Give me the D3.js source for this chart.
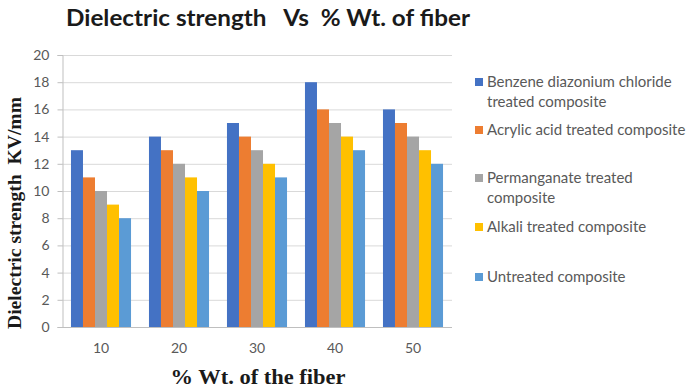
<!DOCTYPE html>
<html>
<head>
<meta charset="utf-8">
<script src="https://cdn.jsdelivr.net/npm/d3@7/dist/d3.min.js"></script>
<style>
  html, body { margin: 0; padding: 0; background: #fff; }
  svg { display: block; }
</style>
</head>
<body>
<svg id="chart" width="686" height="389"></svg>
<script>
// Fiber loading (% wt.) along the x axis
const categories = ["10", "20", "30", "40", "50"];

// Composite treatments (one bar per group each)
const seriesNames = [
  ["Benzene diazonium chloride", "treated composite"],
  ["Acrylic acid treated composite"],
  ["Permanganate treated", "composite"],
  ["Alkali treated composite"],
  ["Untreated composite"]
];

// Dielectric strength (KV/mm) per treatment, in category order
const benzeneDiazonium = [13, 14, 15, 18, 16];
const acrylicAcid      = [11, 13, 14, 16, 15];
const permanganate     = [10, 12, 13, 15, 14];
const alkali           = [9, 11, 12, 14, 13];
const untreated        = [8, 10, 11, 13, 12];

const yTicks = [0, 2, 4, 6, 8, 10, 12, 14, 16, 18, 20];

const seriesValues = [benzeneDiazonium, acrylicAcid, permanganate, alkali, untreated];
const colors = ["#4472C4", "#ED7D31", "#A5A5A5", "#FFC000", "#5B9BD5"];

const svg = d3.select("#chart");
const plot = { left: 62, right: 452, top: 55, bottom: 327 };

const x0 = d3.scaleBand()
  .domain(categories)
  .range([plot.left, plot.right])
  .paddingInner(0.23)
  .paddingOuter(0.115);

const x1 = d3.scaleBand()
  .domain(d3.range(seriesValues.length))
  .range([0, x0.bandwidth()]);

const y = d3.scaleLinear()
  .domain([0, 20])
  .range([plot.bottom, plot.top]);

// Horizontal gridlines
svg.append("g")
  .selectAll("line")
  .data(yTicks.filter(t => t > 0))
  .join("line")
  .attr("x1", plot.left)
  .attr("x2", plot.right)
  .attr("y1", d => y(d) + 0.5)
  .attr("y2", d => y(d) + 0.5)
  .attr("stroke", "#d9d9d9")
  .attr("stroke-width", 1);

// Bars
const groups = svg.append("g")
  .selectAll("g")
  .data(categories)
  .join("g")
  .attr("transform", d => `translate(${x0(d)},0)`);

groups.selectAll("rect")
  .data((c, ci) => seriesValues.map((vals, si) => ({ si, v: vals[ci] })))
  .join("rect")
  .attr("x", d => x1(d.si))
  .attr("width", x1.bandwidth())
  .attr("y", d => y(d.v))
  .attr("height", d => y(0) - y(d.v))
  .attr("fill", d => colors[d.si]);

// Y axis
const yAxis = svg.append("g")
  .attr("transform", `translate(${plot.left + 0.5},0)`)
  .call(d3.axisLeft(y).tickValues(yTicks).tickSize(5).tickPadding(8).tickFormat(d3.format("d")));
yAxis.select(".domain").attr("stroke", "#bfbfbf");
yAxis.selectAll(".tick line").attr("stroke", "#bfbfbf");
yAxis.selectAll("text")
  .attr("fill", "#595959")
  .style("font-family", "Lato, 'Open Sans', sans-serif")
  .style("font-size", "14px");

// X axis
const xAxis = svg.append("g")
  .attr("transform", `translate(0,${plot.bottom + 0.5})`)
  .call(d3.axisBottom(x0).tickSize(0).tickPadding(16));
xAxis.select(".domain").attr("stroke", "#bfbfbf").attr("d", `M${plot.left},0H${plot.right}`);
xAxis.selectAll("text")
  .attr("fill", "#595959")
  .style("font-family", "Lato, 'Open Sans', sans-serif")
  .style("font-size", "14px");

// Title
svg.append("text")
  .attr("x", 66)
  .attr("y", 26)
  .attr("fill", "#1a1a1a")
  .attr("textLength", 404)
  .attr("lengthAdjust", "spacingAndGlyphs")
  .style("font-family", "Lato, 'Open Sans', sans-serif")
  .style("font-weight", "bold")
  .style("font-size", "22px")
  .style("white-space", "pre")
  .text("Dielectric strength   Vs  % Wt. of fiber");

// Axis titles
svg.append("text")
  .attr("transform", `translate(21,${(plot.top + plot.bottom) / 2 + 22}) rotate(-90)`)
  .attr("text-anchor", "middle")
  .attr("fill", "#1a1a1a")
  .attr("textLength", 232)
  .attr("lengthAdjust", "spacingAndGlyphs")
  .style("font-family", "'Liberation Serif', 'Times New Roman', serif")
  .style("font-weight", "bold")
  .style("font-size", "18px")
  .style("white-space", "pre")
  .text("Dielectric strength  KV/mm");

svg.append("text")
  .attr("x", 258)
  .attr("y", 384)
  .attr("text-anchor", "middle")
  .attr("fill", "#1a1a1a")
  .attr("textLength", 175)
  .attr("lengthAdjust", "spacingAndGlyphs")
  .style("font-family", "'Liberation Serif', 'Times New Roman', serif")
  .style("font-weight", "bold")
  .style("font-size", "20px")
  .text("% Wt. of the fiber");

// Legend
const legendRows = [82, 130, 178, 227, 277];
const legend = svg.append("g")
  .selectAll("g")
  .data(seriesNames)
  .join("g")
  .attr("transform", (d, i) => `translate(475,${legendRows[i]})`);

legend.append("rect")
  .attr("x", 0)
  .attr("y", -4)
  .attr("width", 8)
  .attr("height", 8)
  .attr("fill", (d, i) => colors[i]);

legend.append("text")
  .attr("fill", "#595959")
  .style("font-family", "Lato, 'Open Sans', sans-serif")
  .style("font-size", "15px")
  .selectAll("tspan")
  .data(d => d)
  .join("tspan")
  .attr("x", 12)
  .attr("y", (d, j) => j * 20 + 5)
  .text(d => d);
</script>
</body>
</html>
